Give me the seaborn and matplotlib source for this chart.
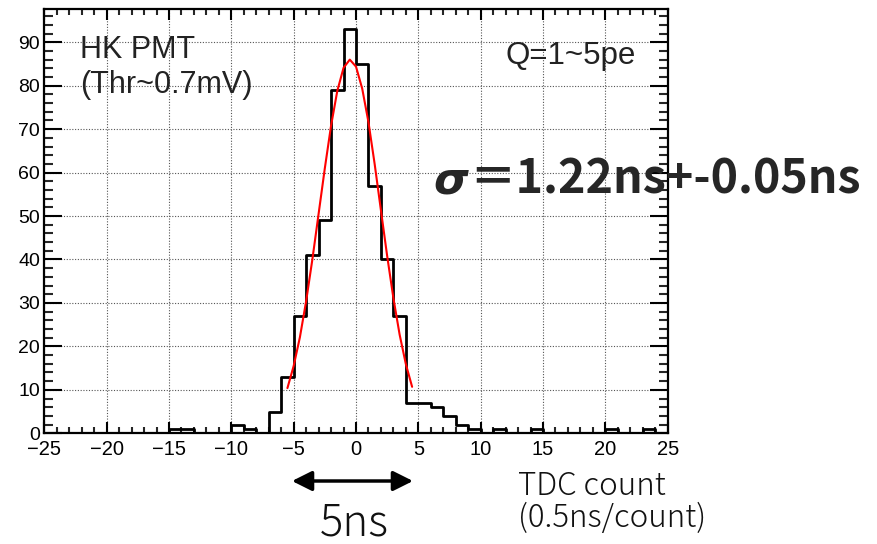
import matplotlib
matplotlib.use("Agg")
import matplotlib.pyplot as plt
import seaborn as sns
import numpy as np
import pandas as pd
from matplotlib.ticker import MultipleLocator

# TDC count histogram (bins of width 1 from -25 to 25)
counts = [0, 0, 0, 0, 0, 0, 0, 0, 0, 0,      # -25 .. -16
          1, 1, 0, 0, 0, 2, 1, 0, 5, 13,     # -15 .. -6
          27, 41, 49, 79, 93, 85, 57, 40, 27, 7,  # -5 .. 4
          7, 6, 4, 2, 1, 0, 1, 0, 0, 1,      # 5 .. 14
          0, 0, 0, 0, 0, 1, 0, 0, 1, 0]      # 15 .. 24
bin_centers = np.arange(-25, 25) + 0.5

# gaussian fit curve
fit_x = [-5.5, -5.0, -4.5, -4.0, -3.5, -3.0, -2.5, -2.0, -1.5, -1.0, -0.5,
         0.0, 0.5, 1.0, 1.5, 2.0, 2.5, 3.0, 3.5, 4.0, 4.5]
fit_y = [10.4, 15.5, 22.1, 30.4, 40.0, 50.5, 61.0, 70.8, 78.8, 84.1, 86.0,
         84.4, 79.3, 71.6, 61.9, 51.3, 40.8, 31.1, 22.7, 15.9, 10.7]

xticks = [-25, -20, -15, -10, -5, 0, 5, 10, 15, 20, 25]
yticks = [0, 10, 20, 30, 40, 50, 60, 70, 80, 90]

hist_df = pd.DataFrame({"tdc": bin_centers, "n": counts})

sns.set_theme(style="white")
plt.rcParams['font.family'] = ['Liberation Sans', 'DejaVu Sans']
cjk = ['Noto Sans CJK JP', 'DejaVu Sans']

W, H = 877, 544
fig = plt.figure(figsize=(W / 100, H / 100), dpi=100)
ax = fig.add_axes([44.3 / W, 1 - 433.3 / H, (667.7 - 44.3) / W, (433.3 - 9) / H])

sns.histplot(data=hist_df, x="tdc", weights="n", binwidth=1, binrange=(-25, 25),
             element="step", fill=False, color="black", linewidth=2.0, ax=ax)
sns.lineplot(x=fit_x, y=fit_y, color="red", linewidth=1.5, ax=ax)

ax.set_xlim(-25, 25)
ax.set_ylim(0, 97.65)
ax.set_xticks(xticks)
ax.set_yticks(yticks)
ax.set_xticklabels([str(t).replace("-", "\u2212") for t in xticks], fontsize=14.5)
ax.set_yticklabels([str(t) for t in yticks], fontsize=14)
ax.xaxis.set_minor_locator(MultipleLocator(1))
ax.yaxis.set_minor_locator(MultipleLocator(2))
ax.set_xlabel("")
ax.set_ylabel("")

ax.tick_params(axis="x", which="major", direction="in", length=8, width=1.5,
               top=True, bottom=True, pad=5, colors="black")
ax.tick_params(axis="x", which="minor", direction="in", length=4, width=1.5,
               top=True, bottom=True)
ax.tick_params(axis="y", which="major", direction="in", length=13, width=1.5,
               left=True, right=True, pad=3, colors="black")
ax.tick_params(axis="y", which="minor", direction="in", length=6.5, width=1.5,
               left=True, right=True)
for s in ax.spines.values():
    s.set_visible(True)
    s.set_color("black")
    s.set_linewidth(1.6)

ax.grid(True, which="major", color="#555555", linestyle=(0, (1, 1.5)), linewidth=0.8)
ax.set_axisbelow(True)


def fx(x):
    return x / W


def fy(y):
    return 1 - y / H


# labels drawn in the plot's own Helvetica-like font
fig.text(fx(80), fy(58), "HK PMT", fontsize=22, color="#222222", va="baseline")
fig.text(fx(80), fy(93), "(Thr~0.7mV)", fontsize=22, color="#222222", va="baseline")
fig.text(fx(506), fy(64), "Q=1~5pe", fontsize=22.5, color="#222222", va="baseline")

fig.text(fx(433), fy(193), "\u03c3", family="DejaVu Sans", fontsize=32, fontweight="bold",
         fontstyle="italic", va="baseline")
fig.text(fx(469), fy(193), "\uff1d1.22ns+-0.05ns", family=cjk, fontsize=33.5,
         fontweight="bold", va="baseline")

fig.text(fx(320), fy(535), "5ns", family=cjk, fontsize=31.5, fontweight="light",
         color="#111111", va="baseline")
fig.text(fx(518), fy(495), "TDC count", family=cjk, fontsize=22.5, fontweight="light",
         color="#111111", va="baseline")
fig.text(fx(518), fy(527), "(0.5ns/count)", family=cjk, fontsize=22.5, fontweight="light",
         color="#111111", va="baseline")

ax.annotate("", xy=(413, H - 481), xytext=(292, H - 481),
            xycoords="figure pixels", textcoords="figure pixels",
            arrowprops=dict(arrowstyle="<|-|>,head_length=0.6,head_width=0.3",
                            color="black", lw=2.5, shrinkA=0, shrinkB=0,
                            mutation_scale=20))

fig.savefig("out.png", dpi=100)
